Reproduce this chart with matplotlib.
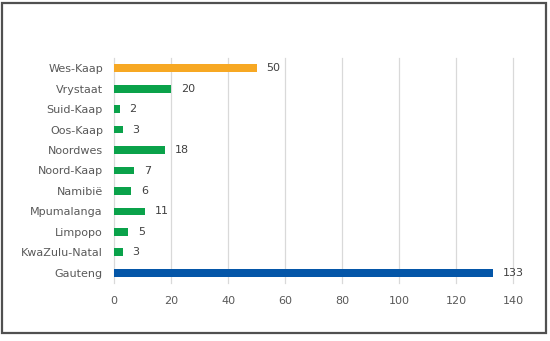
import matplotlib
matplotlib.use("Agg")
import matplotlib.pyplot as plt
from matplotlib.patches import Rectangle

# provinces, top to bottom as shown in the chart
regions = ["Wes-Kaap", "Vrystaat", "Suid-Kaap", "Oos-Kaap", "Noordwes",
           "Noord-Kaap", "Namibië", "Mpumalanga", "Limpopo",
           "KwaZulu-Natal", "Gauteng"]
counts = [50, 20, 2, 3, 18, 7, 6, 11, 5, 3, 133]
bar_colors = ["#F7A823"] + ["#0AA24A"] * 9 + ["#0456A8"]
xticks = [0, 20, 40, 60, 80, 100, 120, 140]

TEXT = "#595959"
plt.rcParams["font.family"] = ["DejaVu Sans"]

fig = plt.figure(figsize=(5.5, 3.41), dpi=100)
ax = fig.add_axes([114 / 550, 1 - 283 / 341, 399 / 550, 225 / 341])

# barh draws from the bottom up, so reverse the order
ypos = list(range(len(regions)))[::-1]
ax.barh(ypos, counts, height=0.38, color=bar_colors, zorder=3)
for y, v in zip(ypos, counts):
    ax.annotate(str(v), (v, y), xytext=(7, 0), textcoords="offset points",
                va="center", ha="left", fontsize=8, color="#404040")

ax.set_xlim(0, 140)
ax.set_ylim(-0.5, len(regions) - 0.5)
ax.set_xticks(xticks)
ax.set_yticks(ypos)
ax.set_yticklabels(regions)
ax.tick_params(length=0, labelsize=8, labelcolor=TEXT)
ax.tick_params(axis="x", pad=9)
ax.tick_params(axis="y", pad=8)
ax.grid(axis="x", color="#D9D9D9", linewidth=0.9, zorder=0)
for gl in ax.get_xgridlines():
    gl.set_clip_on(False)  # keep the 140 line at the right edge visible
for s in ax.spines.values():
    s.set_visible(False)

# outer frame around the whole chart
fig.patches.append(Rectangle((1.5 / 550, 1 - 332.5 / 341), 544 / 550, 330 / 341,
                             transform=fig.transFigure, fill=False,
                             edgecolor="#505050", linewidth=1.6))

fig.savefig("out.png", dpi=100)
